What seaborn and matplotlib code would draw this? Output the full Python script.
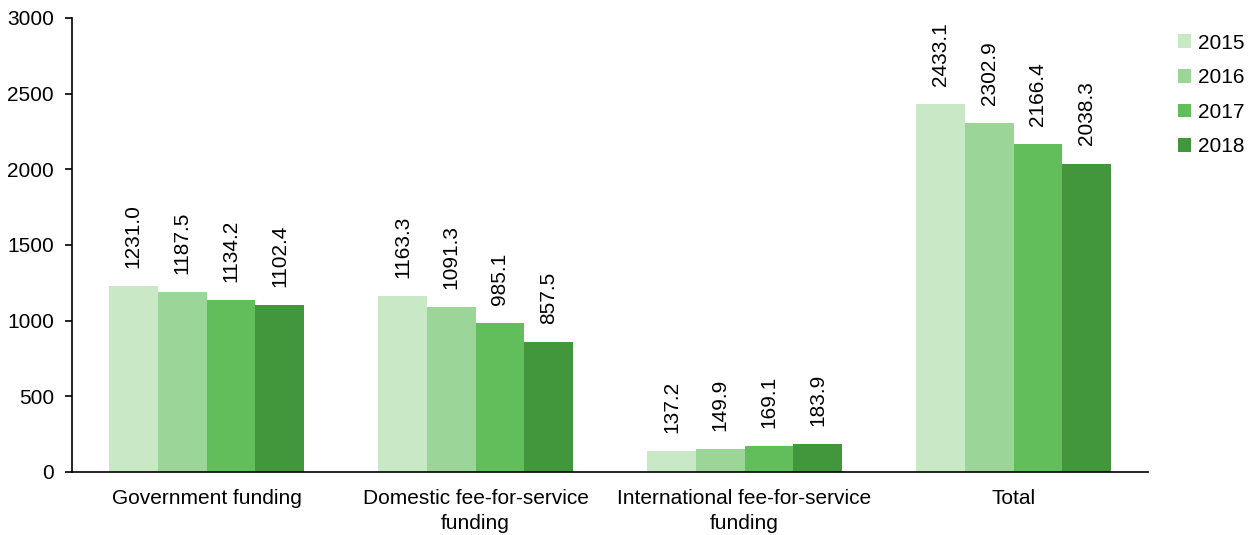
import matplotlib
matplotlib.use("Agg")
import matplotlib.pyplot as plt
import seaborn as sns
import pandas as pd

categories = ["Government funding", "Domestic fee-for-service\nfunding",
              "International fee-for-service\nfunding", "Total"]
years = ["2015", "2016", "2017", "2018"]
values_2015 = [1231.0, 1163.3, 137.2, 2433.1]
values_2016 = [1187.5, 1091.3, 149.9, 2302.9]
values_2017 = [1134.2, 985.1, 169.1, 2166.4]
values_2018 = [1102.4, 857.5, 183.9, 2038.3]
colors = ["#c9e9c6", "#9cd598", "#62be5a", "#42963c"]

series = [values_2015, values_2016, values_2017, values_2018]
df = pd.DataFrame(
    [(c, y, v) for y, vals in zip(years, series) for c, v in zip(categories, vals)],
    columns=["category", "year", "value"],
)

sns.set_style("white")
plt.rcParams["font.family"] = ["Liberation Sans", "DejaVu Sans"]
plt.rcParams["text.color"] = "black"
plt.rcParams["xtick.color"] = "black"
plt.rcParams["ytick.color"] = "black"

FS = 15

fig = plt.figure(figsize=(12.52, 5.35), dpi=100)
ax = fig.add_axes([0.0575, 0.1178, 0.8595, 0.8486])

sns.barplot(data=df, x="category", y="value", hue="year", order=categories,
            hue_order=years, palette=colors, width=0.725, saturation=1,
            linewidth=0, ax=ax, legend=True)

for container, vals in zip(ax.containers, series):
    ax.bar_label(container, labels=[f"{v:.1f}" for v in vals], rotation=90,
                 padding=13, fontsize=FS, color="black")

ax.set_ylim(0, 3000)
ax.set_yticks(range(0, 3001, 500))
ax.set_xlim(-0.5, 3.5)
ax.set_xlabel("")
ax.set_ylabel("")
ax.tick_params(axis="y", which="major", length=5, width=1.2, direction="out",
               labelsize=FS, pad=8, left=True, color="black", labelcolor="black")
ax.tick_params(axis="x", length=0, labelsize=FS, pad=12, labelcolor="black")
for lbl in ax.get_xticklabels():
    lbl.set_linespacing(1.4)
for s in ["top", "right"]:
    ax.spines[s].set_visible(False)
for s in ["left", "bottom"]:
    ax.spines[s].set_color("black")
    ax.spines[s].set_linewidth(1.2)

leg = ax.legend(loc="upper left", bbox_to_anchor=(1.01, 1.007), frameon=False,
                fontsize=FS, handlelength=0.65, handleheight=0.65,
                labelspacing=0.75, handletextpad=0.35)

fig.savefig("out.png", dpi=100)
